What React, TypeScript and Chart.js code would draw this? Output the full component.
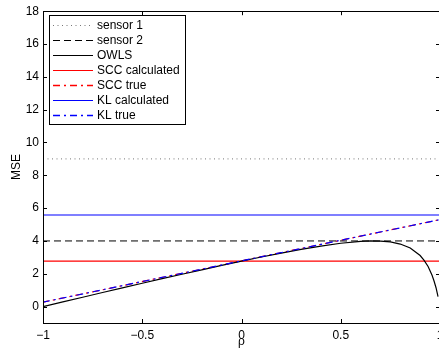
import React, { useEffect, useRef } from "react";
import { Chart, registerables } from "chart.js";

Chart.register(...registerables);

// ---- data ----
const seriesLabels = ["sensor 1", "sensor 2", "OWLS", "SCC calculated", "SCC true", "KL calculated", "KL true"];
const xEnds = [-1, 1];
const sensor1Level = 9;
const sensor2Level = 4;
const sccCalculatedLevel = 2.77;
const klCalculatedLevel = 5.58;
const trueRho = [-1, 1];
const sccTrueMse = [0.27, 5.3];
const klTrueMse = [0.27, 5.3];
const owlsRho = [-1, -0.9, -0.8, -0.7, -0.6, -0.5, -0.4, -0.3, -0.2, -0.1, 0, 0.1, 0.2, 0.3, 0.4, 0.5, 0.6, 0.65, 0.7, 0.75, 0.8, 0.85, 0.9, 0.92, 0.94, 0.96, 0.97, 0.98, 0.99];
const owlsMse = [0, 0.29, 0.57, 0.86, 1.14, 1.42, 1.7, 1.97, 2.24, 2.51, 2.77, 3.02, 3.26, 3.49, 3.69, 3.86, 3.97, 4.0, 3.99, 3.94, 3.81, 3.57, 3.11, 2.82, 2.44, 1.91, 1.56, 1.15, 0.6];
const xTickStep = 0.5;
const yTickStep = 2;

// ---- styles ----
const FONT = '"Liberation Sans", Arial, Helvetica, sans-serif';
const STYLES = [
  { color: "#777777", dash: [1, 3.5], width: 1 },
  { color: "#000000", dash: [7, 4], width: 1 },
  { color: "#000000", dash: [] as number[], width: 1.2 },
  { color: "#ff0000", dash: [] as number[], width: 1.2 },
  { color: "#ff0000", dash: [7, 4, 2, 4], width: 1.2 },
  { color: "#0000ff", dash: [] as number[], width: 1.2 },
  { color: "#0000ff", dash: [7, 4, 2, 4], width: 1.2 },
];

const flat = (level: number) => xEnds.map((x) => ({ x, y: level }));
const pairs = (xs: number[], ys: number[]) => xs.map((x, i) => ({ x, y: ys[i] }));
const fmt = (v: number | string) => String(v).replace("-", "\u2212");

const framePlugin = {
  id: "matlabFrame",
  afterDatasetsDraw(chart: any) {
    const { ctx, chartArea: a, scales } = chart;
    const tl = 4;
    ctx.save();
    ctx.strokeStyle = "#000";
    ctx.lineWidth = 1;
    ctx.setLineDash([]);
    ctx.strokeRect(Math.round(a.left) + 0.5, Math.round(a.top) + 0.5, Math.round(a.right - a.left), Math.round(a.bottom - a.top));
    ctx.beginPath();
    for (const t of scales.x.ticks) {
      const px = Math.round(scales.x.getPixelForValue(t.value)) + 0.5;
      ctx.moveTo(px, a.bottom);
      ctx.lineTo(px, a.bottom - tl);
      ctx.moveTo(px, a.top);
      ctx.lineTo(px, a.top + tl);
    }
    for (const t of scales.y.ticks) {
      const py = Math.round(scales.y.getPixelForValue(t.value)) + 0.5;
      ctx.moveTo(a.left, py);
      ctx.lineTo(a.left + tl, py);
      ctx.moveTo(a.right, py);
      ctx.lineTo(a.right - tl, py);
    }
    ctx.stroke();

    const bx = 49.5, by = 15.5, bw = 136, bh = 109;
    ctx.fillStyle = "#fff";
    ctx.fillRect(bx, by, bw, bh);
    ctx.strokeRect(bx, by, bw, bh);
    ctx.font = "12px " + FONT;
    ctx.textBaseline = "middle";
    ctx.textAlign = "left";
    chart.data.datasets.forEach((ds: any, i: number) => {
      const st = STYLES[i];
      const y = Math.round(25.3 + 15 * i);
      ctx.save();
      ctx.strokeStyle = st.color;
      ctx.lineWidth = st.dash.length === 4 ? 1.5 : 1;
      ctx.setLineDash(st.dash);
      ctx.beginPath();
      ctx.moveTo(53, y + 0.5);
      ctx.lineTo(93, y + 0.5);
      ctx.stroke();
      ctx.restore();
      ctx.fillStyle = "#000";
      ctx.fillText(ds.label, 97, y + 0.5);
    });
    ctx.restore();
  },
};

export default function App() {
  const ref = useRef<HTMLCanvasElement>(null);
  useEffect(() => {
    const canvas = ref.current!;
    const series = [
      flat(sensor1Level),
      flat(sensor2Level),
      pairs(owlsRho, owlsMse),
      flat(sccCalculatedLevel),
      pairs(trueRho, sccTrueMse),
      flat(klCalculatedLevel),
      pairs(trueRho, klTrueMse),
    ];
    const datasets = series.map((data, i) => ({
      label: seriesLabels[i],
      data,
      borderColor: STYLES[i].color,
      backgroundColor: STYLES[i].color,
      borderWidth: STYLES[i].width,
      borderDash: STYLES[i].dash,
      borderDashOffset: i === 4 ? 1 : 0,
      order: i === 6 ? -1 : 0,
      pointRadius: 0,
      fill: false,
      tension: 0,
    }));
    const chart = new Chart(canvas, {
      type: "line",
      data: { datasets } as any,
      options: {
        animation: false,
        responsive: false,
        devicePixelRatio: 1,
        layout: { padding: { left: 0, top: 10, right: 20, bottom: 0 } },
        plugins: { legend: { display: false }, tooltip: { enabled: false } },
        scales: {
          x: {
            type: "linear",
            min: -1,
            max: 1,
            grid: { display: false, drawTicks: false },
            border: { display: false },
            ticks: { stepSize: xTickStep, padding: 5, color: "#000", font: { size: 12, family: FONT }, callback: (v: any) => fmt(v), maxRotation: 0 },
            title: { display: true, text: "\u03c1", color: "#000", font: { size: 12, family: FONT }, padding: { top: 0, bottom: 9 } },
            afterFit: (s: any) => { s.height = 35; },
          },
          y: {
            type: "linear",
            min: -1,
            max: 18,
            grid: { display: false, drawTicks: false },
            border: { display: false },
            ticks: { stepSize: yTickStep, padding: 4, color: "#000", font: { size: 12, family: FONT }, callback: (v: any) => fmt(v) },
            afterBuildTicks: (s: any) => { s.ticks = s.ticks.filter((t: any) => t.value >= 0); },
            title: { display: true, text: "MSE", color: "#000", font: { size: 12, family: FONT }, padding: { top: 9, bottom: 0 } },
            afterFit: (s: any) => { s.width = 43; },
          },
        },
      } as any,
      plugins: [framePlugin],
    });
    return () => chart.destroy();
  }, []);
  return (
    <div style={{ position: "fixed", left: 0, top: 0, width: 439, height: 358, overflow: "hidden", background: "#fff" }}>
      <canvas ref={ref} width={460} height={358} style={{ width: 460, height: 358, display: "block" }} />
    </div>
  );
}
